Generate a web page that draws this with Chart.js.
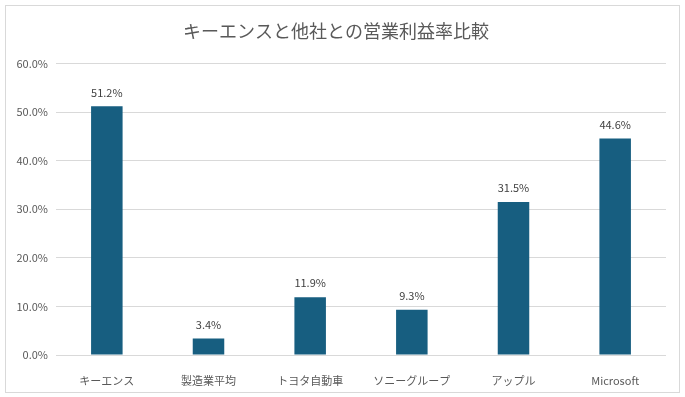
<!DOCTYPE html>
<html lang="ja">
<head>
<meta charset="UTF-8">
<title>営業利益率比較</title>
<script src="https://cdn.jsdelivr.net/npm/chart.js"></script>
<style>
    body { margin: 0; background: #ffffff; }
    .frame {
        position: absolute;
        left: 5px; top: 5px;
        width: 673px; height: 386px;
        border: 1px solid #d9d9d9;
        background: #ffffff;
    }
    canvas { display: block; }
</style>
</head>
<body>
<div class="frame">
    <canvas id="chart" width="673" height="386"></canvas>
</div>
<script>
    // データ
    const companies = ['キーエンス', '製造業平均', 'トヨタ自動車', 'ソニーグループ', 'アップル', 'Microsoft'];
    const marginRates = [51.2, 3.4, 11.9, 9.3, 31.5, 44.6];
    const yTicks = [0, 10, 20, 30, 40, 50, 60];

    const FONT = '"Noto Sans CJK JP", "Noto Sans", sans-serif';

    // 棒の上に値ラベルを描く
    const valueLabels = {
        id: 'valueLabels',
        afterDatasetsDraw(chart) {
            const ctx = chart.ctx;
            const meta = chart.getDatasetMeta(0);
            ctx.save();
            ctx.font = '11px ' + FONT;
            ctx.fillStyle = '#404040';
            ctx.textAlign = 'center';
            ctx.textBaseline = 'middle';
            meta.data.forEach((bar, i) => {
                ctx.fillText(marginRates[i].toFixed(1) + '%', bar.x, bar.y - 14);
            });
            ctx.restore();
        }
    };

    new Chart(document.getElementById('chart'), {
        type: 'bar',
        data: {
            labels: companies,
            datasets: [{
                data: marginRates,
                backgroundColor: '#175e80',
                barPercentage: 0.31,
                categoryPercentage: 1.0
            }]
        },
        options: {
            responsive: false,
            animation: false,
            layout: { padding: { left: 0, right: 13, top: 0, bottom: 0 } },
            plugins: {
                legend: { display: false },
                tooltip: { enabled: false },
                title: {
                    display: true,
                    text: 'キーエンスと他社との営業利益率比較',
                    color: '#595959',
                    font: { family: FONT, size: 18, weight: 'normal' },
                    padding: { top: 14, bottom: 22 }
                }
            },
            scales: {
                x: {
                    grid: { display: false },
                    border: { display: false },
                    ticks: {
                        color: '#595959',
                        font: { family: FONT, size: 11 },
                        padding: 11,
                        maxRotation: 0
                    },
                    afterFit(scale) { scale.height = 37; }
                },
                y: {
                    min: 0,
                    max: 60,
                    afterBuildTicks(scale) {
                        scale.ticks = yTicks.map(v => ({ value: v }));
                    },
                    grid: { color: '#d9d9d9', drawTicks: false },
                    border: { display: false },
                    ticks: {
                        color: '#595959',
                        font: { family: FONT, size: 11 },
                        padding: 8,
                        callback: v => v.toFixed(1) + '%'
                    },
                    afterFit(scale) { scale.width = 50; }
                }
            }
        },
        plugins: [valueLabels]
    });
</script>
</body>
</html>
